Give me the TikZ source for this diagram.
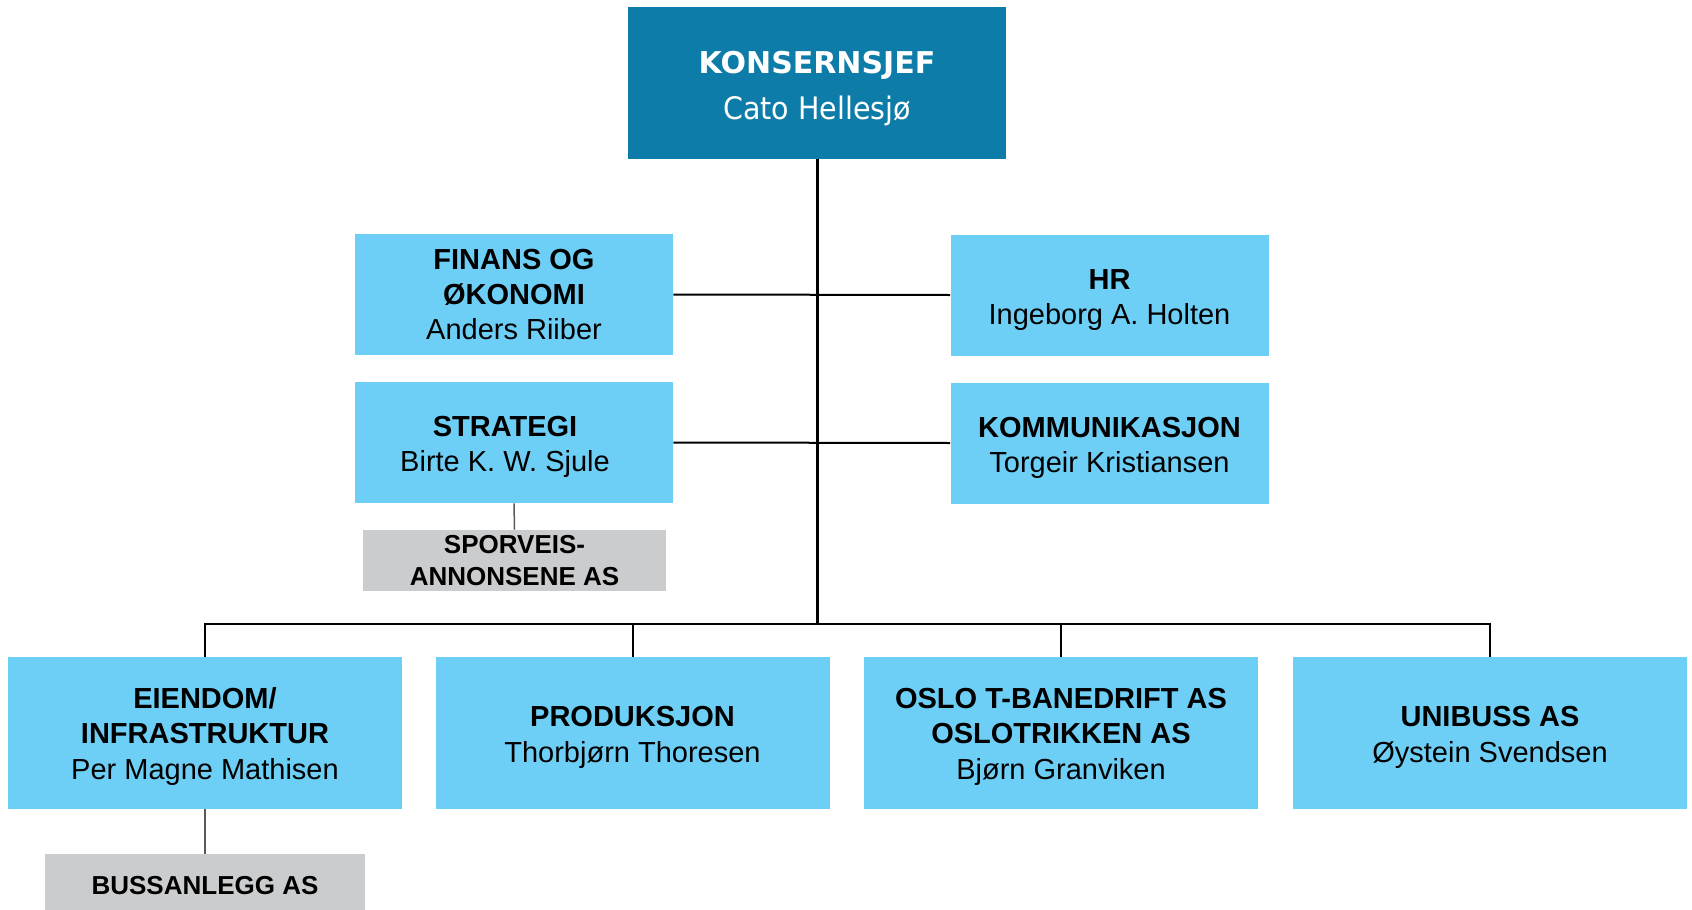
\documentclass[tikz,border=0pt]{standalone}
\usepackage{fontspec}
\setmainfont{Liberation Sans}
\newfontfamily\topfont{DejaVu Sans}
\newfontfamily\topfontnarrow[FakeStretch=0.92]{DejaVu Sans}
\definecolor{darkblue}{HTML}{0E7CA8}
\definecolor{lightblue}{HTML}{6DCFF6}
\definecolor{subgray}{HTML}{CBCCCE}
\newcommand\mystrut[1]{\rule{0pt}{#1}}
\begin{document}
\begin{tikzpicture}[x=0.5pt,y=-0.5pt,
  box/.style={fill=lightblue,inner sep=0pt,align=center,text=black,
    font=\fontsize{14.5}{17.5}\selectfont},
  bigbox/.style={box,minimum width=197pt,minimum height=76pt,
    font=\fontsize{14.5}{17.8}\selectfont},
  midbox/.style={box,minimum width=159pt,minimum height=60.5pt},
  subbox/.style={fill=subgray,inner sep=0pt,align=center,
    font=\fontsize{13}{16}\selectfont\bfseries},
  mainline/.style={line width=1.5pt,black},
  link/.style={line width=1pt,black},
  sublink/.style={line width=0.75pt,black!65}]
\useasboundingbox (0,0) rectangle (1692,910);
% top
\node[fill=darkblue,minimum width=189pt,minimum height=76pt,inner sep=0pt,
  align=center,text=white,font=\fontsize{15}{23}\selectfont] (top) at (817,83)
  {\mystrut{16.4pt}{\topfont\bfseries\fontsize{15}{23}\selectfont KONSERNSJEF}\\
   {\topfontnarrow\fontsize{15.5}{23}\selectfont Cato Hellesjø}};
% staff
\node[midbox] (finans) at (514,294.5) {\textbf{FINANS OG}\\\textbf{ØKONOMI}\\Anders Riiber};
\node[midbox] (strategi) at (514,442.5)
  {\mystrut{14.8pt}\textbf{STRATEGI}\hspace*{9pt}\\Birte K. W. Sjule\hspace*{9pt}};
\node[midbox] (hr) at (1109.5,295) {\mystrut{14.8pt}\textbf{HR}\\Ingeborg A. Holten};
\node[midbox] (komm) at (1109.5,443) {\mystrut{14.8pt}\textbf{KOMMUNIKASJON}\\Torgeir Kristiansen};
\node[subbox,minimum width=151.5pt,minimum height=30.5pt] (sporveis) at (514.5,560.5)
  {SPORVEIS-\\ANNONSENE AS};
% line units
\node[bigbox] (eiendom) at (205,733)
  {\mystrut{14pt}\textbf{EIENDOM/}\\\textbf{INFRASTRUKTUR}\\Per Magne Mathisen};
\node[bigbox] (prod) at (632.5,733)
  {\mystrut{14.5pt}\textbf{PRODUKSJON}\\Thorbjørn Thoresen};
\node[bigbox] (oslo) at (1061,733)
  {\mystrut{14pt}\textbf{OSLO T-BANEDRIFT AS}\\\textbf{OSLOTRIKKEN AS}\\Bjørn Granviken};
\node[bigbox] (unibuss) at (1490,733)
  {\mystrut{14.5pt}\textbf{UNIBUSS AS}\\Øystein Svendsen};
\node[subbox,minimum width=160pt,minimum height=28pt] (buss) at (205,882)
  {\mystrut{12.5pt}BUSSANLEGG AS};
% connectors
\coordinate (bus) at (817,624);
\draw[link] (finans.east) -- (hr.west);
\draw[link] (strategi.east) -- (komm.west);
\draw[link] (eiendom.north) |- (bus) -| (unibuss.north);
\draw[link] (prod.north) -- (prod.north |- bus);
\draw[link] (oslo.north) -- (oslo.north |- bus);
\draw[mainline] (top.south) -- (bus);
\draw[sublink] (strategi.south) -- (sporveis.north);
\draw[sublink] (eiendom.south) -- (buss.north);
\end{tikzpicture}
\end{document}
